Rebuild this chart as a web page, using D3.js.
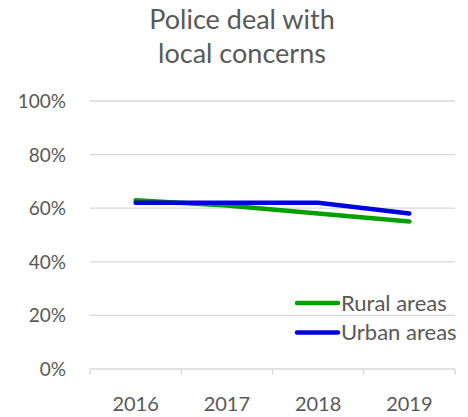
<!DOCTYPE html>
<html><head><meta charset="utf-8">
<script src="https://cdn.jsdelivr.net/npm/d3@7"></script>
<style>body{margin:0;background:#fff}svg text{font-family:Lato,"Open Sans",sans-serif;fill:#595959}</style>
</head><body><svg id="c" width="468" height="417"></svg>
<script>
const years = ["2016","2017","2018","2019"];
const rural = [63, 61, 58, 55];
const urban = [62, 62, 62, 58];
const yTicks = [0,20,40,60,80,100];
const seriesNames = ["Rural areas","Urban areas"];
const colors = ["#00a000","#0000e0"];
const titleLines = ["Police deal with","local concerns"];

const svg = d3.select("#c");
const y = d3.scaleLinear().domain([0,100]).range([369,101]);

// gridlines
svg.append("g").selectAll("line").data(yTicks.filter(d=>d>0)).join("line")
  .attr("x1",90).attr("x2",455).attr("y1",d=>y(d)).attr("y2",d=>y(d))
  .attr("stroke","#d9d9d9").attr("stroke-width",1.3);
// y labels
svg.append("g").selectAll("text").data(yTicks).join("text")
  .attr("x",66).attr("y",d=>y(d)+7).attr("text-anchor","end")
  .attr("font-size",19).text(d=>d+"%");
// x axis
const xa = svg.append("g");
xa.append("line").attr("x1",90).attr("x2",455).attr("y1",y(0)).attr("y2",y(0)).attr("stroke","#d9d9d9").attr("stroke-width",1.3);
xa.selectAll("line.t").data([0,1,2,3,4]).join("line").attr("class","t")
  .attr("x1",i=>90+i*(365/4)).attr("x2",i=>90+i*(365/4)).attr("y1",y(0)).attr("y2",y(0)+6)
  .attr("stroke","#d9d9d9").attr("stroke-width",1.3);
const xc = d3.scalePoint().domain(years).range([90+365/8, 455-365/8]);
xa.selectAll("text").data(years).join("text")
  .attr("x",d=>xc(d)).attr("y",411).attr("text-anchor","middle").attr("font-size",20).text(d=>d);

// lines
const line = d3.line().x((d,i)=>xc(years[i])).y(d=>y(d));
[rural, urban].forEach((s,k)=>{
  svg.append("path").datum(s).attr("d",line).attr("fill","none")
    .attr("stroke",colors[k]).attr("stroke-width",4.5).attr("stroke-linecap","round");
});

// legend
seriesNames.forEach((n,k)=>{
  const ly = 303 + k*29.5;
  svg.append("line").attr("x1",297).attr("x2",338).attr("y1",ly).attr("y2",ly)
    .attr("stroke",colors[k]).attr("stroke-width",4.5).attr("stroke-linecap","round");
  svg.append("text").attr("x",341).attr("y",ly+7.5).attr("font-size",22).text(n);
});

// title
svg.append("g").selectAll("text").data(titleLines).join("text")
  .attr("x",242).attr("y",(d,i)=>29+i*34).attr("text-anchor","middle")
  .attr("font-size",27).text(d=>d);
</script></body></html>
